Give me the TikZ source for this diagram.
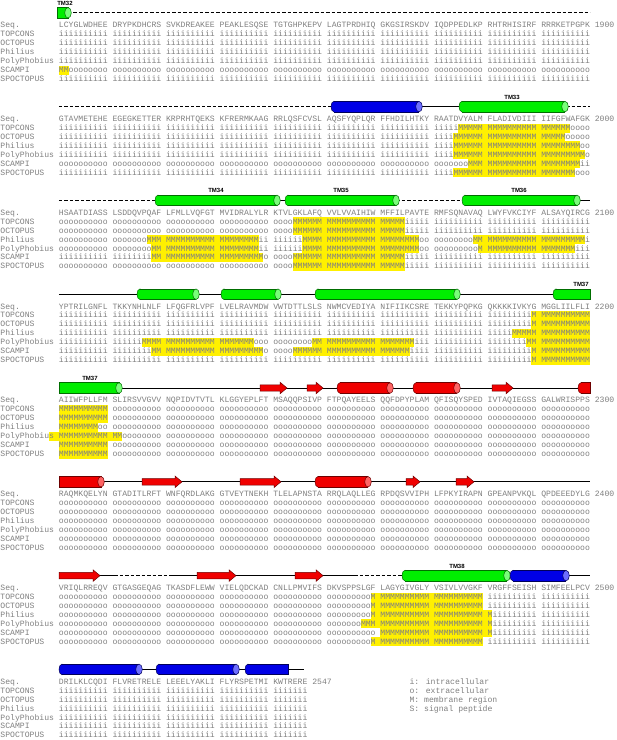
\documentclass[tikz,border=0pt]{standalone}
\usepackage{fontspec}
\newfontfamily\seqfont{Liberation Mono}
\newfontfamily\tmfont{Liberation Sans}
\definecolor{tgray}{RGB}{128,128,128}
\definecolor{hlyel}{RGB}{255,240,0}
\definecolor{hgreen}{RGB}{0,238,0}
\definecolor{hgreenD}{RGB}{0,110,0}
\definecolor{hgreenE}{RGB}{120,255,120}
\definecolor{hblue}{RGB}{0,0,230}
\definecolor{hblueD}{RGB}{0,0,90}
\definecolor{hblueE}{RGB}{110,110,255}
\definecolor{hred}{RGB}{240,0,0}
\definecolor{hredD}{RGB}{110,0,0}
\definecolor{hredE}{RGB}{255,100,100}
\newcommand{\qI}{iiiiiiiiii}
\newcommand{\qO}{oooooooooo}
\newcommand{\qM}{MMMMMMMMMM}
\newcommand{\allI}{\qI\ \qI\ \qI\ \qI\ \qI\ \qI\ \qI\ \qI\ \qI\ \qI}
\newcommand{\allO}{\qO\ \qO\ \qO\ \qO\ \qO\ \qO\ \qO\ \qO\ \qO\ \qO}
\tikzset{
  rowlab/.style={anchor=base west, inner sep=0pt, outer sep=0pt, text=tgray,
    font=\seqfont\fontsize{8.12}{9}\selectfont},
  tmlab/.style={anchor=center, inner sep=0pt, text=black,
    font=\tmfont\bfseries\fontsize{6}{7}\selectfont},
  sline/.style={line width=0.9pt, black},
  dline/.style={line width=1.3pt, black, dash pattern=on 3.5pt off 2pt},
}
% text row: block, row, label, text
\newcommand{\srow}[4]{%
  \pgfmathsetmacro{\yb}{27.6+93.8*#1+8.95*#2}%
  \node[rowlab] (lab-#1-#2) at (0.5,\yb) {#3};%
  \node[rowlab] (seq-#1-#2) at (58.94,\yb) {#4};%
}
% highlight: block,row,res1,res2
\newcommand{\hlt}[4]{%
  \pgfmathsetmacro{\yb}{27.6+93.8*#1+8.95*#2}%
  \pgfmathsetmacro{\xa}{0.5+(11+#3+floor((#3-1)/10))*4.87}%
  \pgfmathsetmacro{\xb}{0.5+(12+#4+floor((#4-1)/10))*4.87}%
  \fill[hlyel] (\xa,\yb-6.77) rectangle (\xb,\yb+2.18);%
}
% highlight by column
\newcommand{\hlc}[4]{%
  \pgfmathsetmacro{\yb}{27.6+93.8*#1+8.95*#2}%
  \fill[hlyel] ({0.5+#3*4.87},\yb-6.77) rectangle ({0.5+#4*4.87},\yb+2.18);%
}
% cylinder, rounded left, end ellipse: x1,x2,block,color
\newcommand{\cylE}[4]{%
  \pgfmathsetmacro{\fy}{12.8+93.8*#3}%
  \filldraw[fill=#4, draw=#4D, line width=0.5pt] (#1+3,\fy) ellipse [x radius=3, y radius=5.3];%
  \fill[#4] (#1+3,\fy-5.3) rectangle (#2,\fy+5.3);%
  \draw[#4D, line width=0.5pt] (#1+3,\fy-5.3) -- (#2,\fy-5.3) (#1+3,\fy+5.3) -- (#2,\fy+5.3);%
  \filldraw[fill=#4E, draw=#4D, line width=0.5pt] (#2,\fy) ellipse [x radius=3.3, y radius=5.3];%
}
% cylinder, flat left, end ellipse
\newcommand{\cylF}[4]{%
  \pgfmathsetmacro{\fy}{12.8+93.8*#3}%
  \filldraw[fill=#4, draw=#4D, line width=0.5pt] (#1,\fy-5.3) rectangle (#2,\fy+5.3);%
  \filldraw[fill=#4E, draw=#4D, line width=0.5pt] (#2,\fy) ellipse [x radius=3.3, y radius=5.3];%
}
% cylinder, rounded left, open right
\newcommand{\cylO}[4]{%
  \pgfmathsetmacro{\fy}{12.8+93.8*#3}%
  \filldraw[fill=#4, draw=#4D, line width=0.5pt] (#1+3,\fy) ellipse [x radius=3, y radius=5.3];%
  \fill[#4] (#1+3,\fy-5.3) rectangle (#2,\fy+5.3);%
  \draw[#4D, line width=0.5pt] (#1+3,\fy-5.3) -- (#2,\fy-5.3) -- (#2,\fy+5.3) -- (#1+3,\fy+5.3);%
}
% arrow (strand)
\newcommand{\arrw}[3]{%
  \pgfmathsetmacro{\fy}{12.8+93.8*#3}%
  \filldraw[fill=hred, draw=hredD, line width=0.5pt] (#1,\fy-3.2) -- (#2-7,\fy-3.2) -- (#2-7,\fy-5.8) -- (#2,\fy) -- (#2-7,\fy+5.8) -- (#2-7,\fy+3.2) -- (#1,\fy+3.2) -- cycle;%
}
\newcommand{\sln}[3]{\pgfmathsetmacro{\fy}{12.8+93.8*#3}\draw[sline] (#1,\fy) -- (#2,\fy);}
\newcommand{\dln}[3]{\pgfmathsetmacro{\fy}{12.8+93.8*#3}\draw[dline] (#1,\fy) -- (#2,\fy);}
\newcommand{\tmlabel}[4]{\pgfmathsetmacro{\fy}{3.3+93.8*#3}\node[tmlab] (#4) at (#1,\fy) {#2};}

\begin{document}
\begin{tikzpicture}[x=1pt,y=-1pt]
\fill[white] (0,0) rectangle (617,740);
\useasboundingbox (0,0) rectangle (617,740);

%================ Block 0 (1801-1900)
\dln{73}{590}{0}
\cylF{57.5}{68}{0}{hgreen}
\tmlabel{65}{TM32}{0}{tm32}
\hlt{0}{5}{1}{2}
\srow{0}{0}{Seq.}{LCYGLWDHEE DRYPKDHCRS SVKDREAKEE PEAKLESQSE TGTGHPKEPV LAGTPRDHIQ GKGSIRSKDV IQDPPEDLKP RHTRHISIRF RRRKETPGPK 1900}
\srow{0}{1}{TOPCONS}{\allI}
\srow{0}{2}{OCTOPUS}{\allI}
\srow{0}{3}{Philius}{\allI}
\srow{0}{4}{PolyPhobius}{\allI}
\srow{0}{5}{SCAMPI}{MMoooooooo \qO\ \qO\ \qO\ \qO\ \qO\ \qO\ \qO\ \qO\ \qO}
\srow{0}{6}{SPOCTOPUS}{\allI}

%================ Block 1 (1901-2000)
\dln{58.9}{331}{1}
\sln{420}{460}{1}
\dln{566}{590}{1}
\cylE{331}{419}{1}{hblue}
\cylE{459}{565}{1}{hgreen}
\tmlabel{512}{TM33}{1}{tm33}
\hlt{1}{1}{76}{96}
\hlt{1}{2}{75}{95}
\hlt{1}{3}{75}{98}
\hlt{1}{4}{75}{99}
\hlt{1}{5}{78}{98}
\hlt{1}{6}{75}{97}
\srow{1}{0}{Seq.}{GTAVMETEHE EGEGKETTER KRPRHTQEKS KFRERMKAAG RRLQSFCVSL AQSFYQPLQR FFHDILHTKY RAATDVYALM FLADIVDIII IIFGFWAFGK 2000}
\srow{1}{1}{TOPCONS}{\qI\ \qI\ \qI\ \qI\ \qI\ \qI\ \qI\ iiiiiMMMMM \qM\ MMMMMMoooo}
\srow{1}{2}{OCTOPUS}{\qI\ \qI\ \qI\ \qI\ \qI\ \qI\ \qI\ iiiiMMMMMM \qM\ MMMMMooooo}
\srow{1}{3}{Philius}{\qI\ \qI\ \qI\ \qI\ \qI\ \qI\ \qI\ iiiiMMMMMM \qM\ MMMMMMMMoo}
\srow{1}{4}{PolyPhobius}{\qI\ \qI\ \qI\ \qI\ \qI\ \qI\ \qI\ iiiiMMMMMM \qM\ MMMMMMMMMo}
\srow{1}{5}{SCAMPI}{\qO\ \qO\ \qO\ \qO\ \qO\ \qO\ \qO\ oooooooMMM \qM\ MMMMMMMMii}
\srow{1}{6}{SPOCTOPUS}{\qI\ \qI\ \qI\ \qI\ \qI\ \qI\ \qI\ iiiiMMMMMM \qM\ MMMMMMMooo}

%================ Block 2 (2001-2100)
\dln{58.9}{155}{2}
\sln{277}{288}{2}
\dln{396}{462}{2}
\sln{577}{590}{2}
\cylE{155}{277}{2}{hgreen}
\cylE{285}{396}{2}{hgreen}
\cylE{462}{577}{2}{hgreen}
\tmlabel{216}{TM34}{2}{tm34}
\tmlabel{341}{TM35}{2}{tm35}
\tmlabel{519}{TM36}{2}{tm36}
\hlt{2}{1}{45}{65}
\hlt{2}{2}{45}{65}
\hlt{2}{3}{18}{38}\hlt{2}{3}{47}{68}\hlt{2}{3}{79}{99}
\hlt{2}{4}{19}{38}\hlt{2}{4}{47}{68}\hlt{2}{4}{80}{97}
\hlt{2}{5}{19}{39}\hlt{2}{5}{45}{65}
\hlt{2}{6}{45}{65}
\srow{2}{0}{Seq.}{HSAATDIASS LSDDQVPQAF LFMLLVQFGT MVIDRALYLR KTVLGKLAFQ VVLVVAIHIW MFFILPAVTE RMFSQNAVAQ LWYFVKCIYF ALSAYQIRCG 2100}
\srow{2}{1}{TOPCONS}{\qO\ \qO\ \qO\ \qO\ ooooMMMMMM \qM\ MMMMMiiiii \qI\ \qI\ \qI}
\srow{2}{2}{OCTOPUS}{\qO\ \qO\ \qO\ \qO\ ooooMMMMMM \qM\ MMMMMiiiii \qI\ \qI\ \qI}
\srow{2}{3}{Philius}{\qO\ oooooooMMM \qM\ MMMMMMMMii iiiiiiMMMM \qM\ MMMMMMMMoo ooooooooMM \qM\ MMMMMMMMMi}
\srow{2}{4}{PolyPhobius}{\qO\ ooooooooMM \qM\ MMMMMMMMii iiiiiiMMMM \qM\ MMMMMMMMoo oooooooooM \qM\ MMMMMMMiii}
\srow{2}{5}{SCAMPI}{\qI\ iiiiiiiiMM \qM\ MMMMMMMMMo ooooMMMMMM \qM\ MMMMMiiiii \qI\ \qI\ \qI}
\srow{2}{6}{SPOCTOPUS}{\qO\ \qO\ \qO\ \qO\ ooooMMMMMM \qM\ MMMMMiiiii \qI\ \qI\ \qI}

%================ Block 3 (2101-2200)
\sln{58.9}{590}{3}
\cylE{137}{196}{3}{hgreen}
\cylE{221}{278}{3}{hgreen}
\cylE{315}{457}{3}{hgreen}
\cylO{553}{590}{3}{hgreen}
\tmlabel{581}{TM37}{3}{tm37a}
\hlt{3}{1}{90}{100}
\hlt{3}{2}{90}{100}
\hlt{3}{3}{86}{100}
\hlt{3}{4}{17}{37}\hlt{3}{4}{49}{67}\hlt{3}{4}{89}{100}
\hlt{3}{5}{19}{39}\hlt{3}{5}{45}{66}\hlt{3}{5}{90}{100}
\hlt{3}{6}{90}{100}
\srow{3}{0}{Seq.}{YPTRILGNFL TKKYNHLNLF LFQGFRLVPF LVELRAVMDW VWTDTTLSLS NWMCVEDIYA NIFIIKCSRE TEKKYPQPKG QKKKKIVKYG MGGLIILFLI 2200}
\srow{3}{1}{TOPCONS}{\qI\ \qI\ \qI\ \qI\ \qI\ \qI\ \qI\ \qI\ iiiiiiiiiM \qM}
\srow{3}{2}{OCTOPUS}{\qI\ \qI\ \qI\ \qI\ \qI\ \qI\ \qI\ \qI\ iiiiiiiiiM \qM}
\srow{3}{3}{Philius}{\qI\ \qI\ \qI\ \qI\ \qI\ \qI\ \qI\ \qI\ iiiiiMMMMM \qM}
\srow{3}{4}{PolyPhobius}{\qI\ iiiiiiMMMM \qM\ MMMMMMMooo ooooooooMM \qM\ MMMMMMMiii \qI\ iiiiiiiiMM \qM}
\srow{3}{5}{SCAMPI}{\qI\ iiiiiiiiMM \qM\ MMMMMMMMMo ooooMMMMMM \qM\ MMMMMMiiii \qI\ iiiiiiiiiM \qM}
\srow{3}{6}{SPOCTOPUS}{\qI\ \qI\ \qI\ \qI\ \qI\ \qI\ \qI\ \qI\ iiiiiiiiiM \qM}

%================ Block 4 (2201-2300)
\sln{58.9}{590}{4}
\cylF{58.9}{119}{4}{hgreen}
\arrw{260}{287}{4}
\arrw{307}{323}{4}
\cylE{337}{390}{4}{hred}
\cylE{413}{457}{4}{hred}
\arrw{492}{513}{4}
\cylO{578}{590}{4}{hred}
\tmlabel{90}{TM37}{4}{tm37b}
\hlt{4}{1}{1}{10}
\hlt{4}{2}{1}{10}
\hlt{4}{3}{1}{8}
\hlc{4}{4}{10}{25}
\hlt{4}{5}{1}{10}
\hlt{4}{6}{1}{10}
\srow{4}{0}{Seq.}{AIIWFPLLFM SLIRSVVGVV NQPIDVTVTL KLGGYEPLFT MSAQQPSIVP FTPQAYEELS QQFDPYPLAM QFISQYSPED IVTAQIEGSS GALWRISPPS 2300}
\srow{4}{1}{TOPCONS}{\qM\ \qO\ \qO\ \qO\ \qO\ \qO\ \qO\ \qO\ \qO\ \qO}
\srow{4}{2}{OCTOPUS}{\qM\ \qO\ \qO\ \qO\ \qO\ \qO\ \qO\ \qO\ \qO\ \qO}
\srow{4}{3}{Philius}{MMMMMMMMoo \qO\ \qO\ \qO\ \qO\ \qO\ \qO\ \qO\ \qO\ \qO}
\srow{4}{4}{PolyPhobius}{\qM\ MMoooooooo \qO\ \qO\ \qO\ \qO\ \qO\ \qO\ \qO\ \qO}
\srow{4}{5}{SCAMPI}{\qM\ \qO\ \qO\ \qO\ \qO\ \qO\ \qO\ \qO\ \qO\ \qO}
\srow{4}{6}{SPOCTOPUS}{\qM\ \qO\ \qO\ \qO\ \qO\ \qO\ \qO\ \qO\ \qO\ \qO}

%================ Block 5 (2301-2400)
\sln{58.9}{590}{5}
\cylF{58.9}{101}{5}{hred}
\arrw{142}{182}{5}
\arrw{240}{281}{5}
\cylE{315}{368}{5}{hred}
\arrw{406}{420}{5}
\arrw{456}{474}{5}
\srow{5}{0}{Seq.}{RAQMKQELYN GTADITLRFT WNFQRDLAKG GTVEYTNEKH TLELAPNSTA RRQLAQLLEG RPDQSVVIPH LFPKYIRAPN GPEANPVKQL QPDEEEDYLG 2400}
\srow{5}{1}{TOPCONS}{\allO}
\srow{5}{2}{OCTOPUS}{\allO}
\srow{5}{3}{Philius}{\allO}
\srow{5}{4}{PolyPhobius}{\allO}
\srow{5}{5}{SCAMPI}{\allO}
\srow{5}{6}{SPOCTOPUS}{\allO}

%================ Block 6 (2401-2500)
\sln{100}{114}{6}
\dln{114}{169}{6}
\sln{169}{354}{6}
\dln{354}{402}{6}
\sln{566}{590}{6}
\arrw{59}{100}{6}
\arrw{197}{236}{6}
\arrw{295}{323}{6}
\cylE{402}{507}{6}{hgreen}
\cylE{510}{566}{6}{hblue}
\tmlabel{457}{TM38}{6}{tm38}
\hlt{6}{1}{60}{80}
\hlt{6}{2}{60}{80}
\hlt{6}{3}{60}{81}
\hlt{6}{4}{58}{81}
\hlt{6}{5}{61}{81}
\hlt{6}{6}{60}{80}
\srow{6}{0}{Seq.}{VRIQLRREQV GTGASGEQAG TKASDFLEWW VIELQDCKAD CNLLPMVIFS DKVSPPSLGF LAGYGIVGLY VSIVLVVGKF VRGFFSEISH SIMFEELPCV 2500}
\srow{6}{1}{TOPCONS}{\qO\ \qO\ \qO\ \qO\ \qO\ oooooooooM \qM\ \qM\ \qI\ \qI}
\srow{6}{2}{OCTOPUS}{\qO\ \qO\ \qO\ \qO\ \qO\ oooooooooM \qM\ \qM\ \qI\ \qI}
\srow{6}{3}{Philius}{\qO\ \qO\ \qO\ \qO\ \qO\ oooooooooM \qM\ \qM\ Miiiiiiiii \qI}
\srow{6}{4}{PolyPhobius}{\qO\ \qO\ \qO\ \qO\ \qO\ oooooooMMM \qM\ \qM\ Miiiiiiiii \qI}
\srow{6}{5}{SCAMPI}{\qO\ \qO\ \qO\ \qO\ \qO\ \qO\ \qM\ \qM\ Miiiiiiiii \qI}
\srow{6}{6}{SPOCTOPUS}{\qO\ \qO\ \qO\ \qO\ \qO\ oooooooooM \qM\ \qM\ \qI\ \qI}

%================ Block 7 (2501-2547)
\sln{139}{156}{7}
\sln{236}{245}{7}
\sln{288}{304}{7}
\cylE{59}{139}{7}{hblue}
\cylE{156}{236}{7}{hblue}
\cylO{245}{288}{7}{hblue}
\srow{7}{0}{Seq.}{DRILKLCQDI FLVRETRELE LEEELYAKLI FLYRSPETMI KWTRERE 2547}
\srow{7}{1}{TOPCONS}{\qI\ \qI\ \qI\ \qI\ iiiiiii}
\srow{7}{2}{OCTOPUS}{\qI\ \qI\ \qI\ \qI\ iiiiiii}
\srow{7}{3}{Philius}{\qI\ \qI\ \qI\ \qI\ iiiiiii}
\srow{7}{4}{PolyPhobius}{\qI\ \qI\ \qI\ \qI\ iiiiiii}
\srow{7}{5}{SCAMPI}{\qI\ \qI\ \qI\ \qI\ iiiiiii}
\srow{7}{6}{SPOCTOPUS}{\qI\ \qI\ \qI\ \qI\ iiiiiii}
% legend
\pgfmathsetmacro{\yb}{27.6+93.8*7}
\node[rowlab] (leg-i) at (409.6,\yb) {i: intracellular};
\node[rowlab] (leg-o) at (409.6,\yb+8.95) {o: extracellular};
\node[rowlab] (leg-M) at (409.6,\yb+17.9) {M: membrane region};
\node[rowlab] (leg-S) at (409.6,\yb+26.85) {S: signal peptide};
\end{tikzpicture}
\end{document}
